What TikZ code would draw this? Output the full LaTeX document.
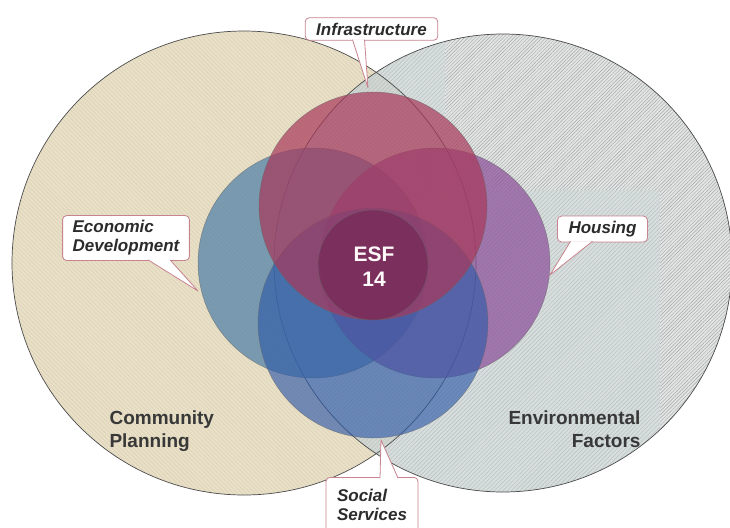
\documentclass[tikz,border=0pt]{standalone}
\usepackage{fontspec}
\setmainfont{Liberation Sans}
\usepackage{tikz}
\usetikzlibrary{calc,patterns.meta}
\definecolor{plancol}{HTML}{E9E0C8}
\definecolor{planline}{HTML}{DDD2B7}
\definecolor{envcol}{HTML}{CED6D5}
\definecolor{envline}{HTML}{BCC5C4}
\definecolor{envlight}{HTML}{E2E5E3}
\definecolor{envdark}{HTML}{A2A7A7}
\definecolor{infracol}{HTML}{A8385A}
\definecolor{econcol}{HTML}{4A7DA6}
\definecolor{housecol}{HTML}{8A4C98}
\definecolor{socialcol}{HTML}{2F5AA8}
\definecolor{esfcol}{HTML}{5E0E3C}
\definecolor{tagcol}{HTML}{C7848F}
\definecolor{txtcol}{HTML}{2B2B2B}

\begin{document}
\begin{tikzpicture}[x=1pt,y=-1pt,
  bigset/.style={draw=black!70,line width=0.7pt},
  subset/.style={fill opacity=0.7,draw=black!60,draw opacity=0.6,line width=0.5pt},
  tag/.style={draw=tagcol,fill=white,line width=0.8pt,rounded corners=4pt,
    font=\bfseries\itshape\fontsize{17}{19}\selectfont,text=txtcol,
    inner xsep=11pt,inner ysep=5pt,align=left},
  tagtip/.style={draw=tagcol,fill=white,line width=0.8pt,line join=round},
  setname/.style={font=\bfseries\fontsize{19}{23}\selectfont,text=black!78}]
\useasboundingbox (0,0) rectangle (730,527);
\clip (0,0) rectangle (730,527);
\fill[white] (0,0) rectangle (730,527);

\coordinate (cp) at (244,263);
\coordinate (ef) at (503,263);
\fill[plancol] (cp) circle (232);
\fill[pattern={Lines[angle=-45,distance=3pt,line width=0.6pt]},pattern color=planline] (cp) circle (232);
\fill[envcol,fill opacity=0.8] (ef) circle (229);
\fill[pattern={Lines[angle=45,distance=3pt,line width=0.6pt]},pattern color=envline] (ef) circle (229);
\begin{scope}
\clip (ef) circle (229);
\fill[envlight] (445,0) -- (730,0) -- (730,527) -- (660,527) -- (660,190) -- (445,190) -- cycle;
\fill[pattern={Lines[angle=45,distance=2.5pt,line width=0.45pt]},pattern color=envdark] (445,0) -- (730,0) -- (730,527) -- (660,527) -- (660,190) -- (445,190) -- cycle;
\end{scope}
\draw[bigset] (cp) circle (232);
\draw[bigset] (ef) circle (229);

\coordinate (infra-c) at (373,206);
\coordinate (econ-c) at (313,263);
\coordinate (house-c) at (435,263);
\coordinate (social-c) at (373,323);
\coordinate (esf-c) at (373,265);
\filldraw[subset,fill=econcol] (econ-c) circle (115);
\filldraw[subset,fill=housecol] (house-c) circle (115);
\filldraw[subset,fill=socialcol,fill opacity=0.64] (social-c) circle (115);
\filldraw[subset,fill=infracol] (infra-c) circle (114);
\filldraw[subset,fill=esfcol,fill opacity=0.35] (esf-c) circle (55);

\node[setname,align=left,anchor=north west] (plan) at (106,407) {Community\\Planning};
\node[setname,align=right,anchor=north east] (env) at (644,407) {Environmental\\Factors};
\node[font=\bfseries\fontsize{21}{25}\selectfont,text=white!90!pink,align=center] (esf) at (374,267) {ESF\\14};

\coordinate (infra-tip) at (368,88);
\coordinate (econ-tip) at (198,291);
\coordinate (house-tip) at (550,275);
\coordinate (social-tip) at (381,440);

\node[tag] (infra) at (371.5,29) {Infrastructure};
\filldraw[tagtip] ($(infra.south)+(-19,-1)$) -- (infra-tip) -- ($(infra.south)+(-7,-1)$);
\node[tag,inner xsep=10pt] (econ) at (126,238) {Economic\\Development};
\filldraw[tagtip] ($(econ.south)+(22,-1)$) -- (econ-tip) -- ($(econ.south)+(44,-1)$);
\node[tag] (house) at (602.5,229) {Housing};
\filldraw[tagtip] ($(house.south)+(-32,-1)$) -- (house-tip) -- ($(house.south)+(-10,-1)$);
\node[tag,anchor=north,inner ysep=12pt] (social) at (372,477) {Social\\Services};
\filldraw[tagtip] ($(social.north)+(8,1)$) -- (social-tip) -- ($(social.north)+(26,1)$);
\end{tikzpicture}
\end{document}
